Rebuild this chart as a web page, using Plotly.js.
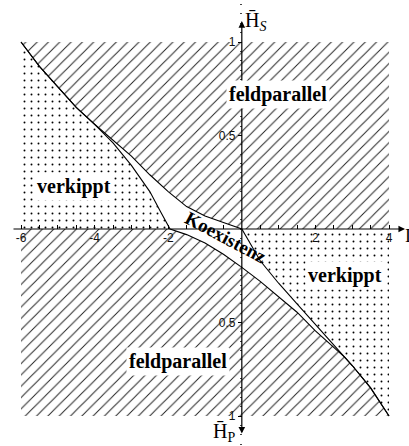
<!DOCTYPE html>
<html>
<head>
<meta charset="utf-8">
<script src="https://cdn.plot.ly/plotly-3.0.1.min.js"></script>
<style>
  html, body { margin: 0; padding: 0; background: #fff; }
  #chart { width: 409px; height: 446px; }
</style>
</head>
<body>
<div id="chart"></div>
<script>
// Phase diagram: field along the horizontal axis, H̄_S upwards, H̄_P downwards.
// Boundary of the hatched "feldparallel" phase above the axis (A) and its
// continuation below the axis, bounding the tilted phase on the right (C).
const curveAX = [-6, -5.5, -5, -4.5, -4, -3.5, -3, -2.5, -2, -1.5, -1, -0.5, 0];
const curveAY = [1, 0.87, 0.76, 0.65, 0.56, 0.475, 0.39, 0.29, 0.2, 0.12, 0.07, 0.035, 0];
const curveCX = [0, 0.5, 1, 1.5, 2, 2.5, 3, 3.5, 4];
const curveCY = [0, -0.17, -0.29, -0.40, -0.51, -0.62, -0.73, -0.85, -1];
// Boundary of the tilted phase on the left (B) and of the hatched phase below (D).
const curveBX = [-6, -5.5, -5, -4.5, -4, -3.5, -3, -2.5, -2.2, -1.95];
const curveBY = [1, 0.87, 0.76, 0.65, 0.56, 0.46, 0.34, 0.2, 0.09, 0];
const curveDX = [-1.95, -1.5, -1, -0.5, 0, 0.5, 1, 1.5, 2, 2.5, 2.8, 3, 3.5, 4];
const curveDY = [0, -0.03, -0.075, -0.135, -0.205, -0.28, -0.36, -0.445, -0.545, -0.63, -0.686, -0.73, -0.85, -1];

const xTickVals = [-6, -5.5, -5, -4.5, -4, -3.5, -3, -2.5, -2, -1.5, -1, -0.5, 0.5, 1, 1.5, 2, 2.5, 3, 3.5, 4];
const xTickText = ['-6', '', '', '', '-4', '', '', '', '-2', '', '', '', '', '', '', '2', '', '', '', '4'];
const yTickVals = [1, 0.5, -0.5, -1];
const yTickText = ['1', '0.5', '0.5', '1'];

const XMIN = -6, XMAX = 4, YMIN = -1, YMAX = 1;

const hatch = { shape: '/', size: 8, solidity: 0.12, fgcolor: '#222222', bgcolor: '#ffffff' };
const dots = { shape: '.', size: 7, solidity: 0.06, fgcolor: '#000000', bgcolor: '#ffffff' };

function region(xs, ys, pattern) {
  return {
    x: xs, y: ys, type: 'scatter', mode: 'none', fill: 'toself',
    fillcolor: '#ffffff', fillpattern: pattern, hoverinfo: 'skip'
  };
}

const traces = [
  // feldparallel, upper half
  region(curveAX.concat([XMAX, XMAX]), curveAY.concat([0, YMAX]), hatch),
  // verkippt, left
  region(curveBX.concat([XMIN]), curveBY.concat([0]), dots),
  // verkippt, right
  region(curveCX.concat([XMAX]), curveCY.concat([0]), dots),
  // feldparallel, lower half
  region(curveDX.concat([XMIN, XMIN]), curveDY.concat([YMIN, 0]), hatch),
  // boundary lines
  { x: curveAX.concat(curveCX.slice(1)), y: curveAY.concat(curveCY.slice(1)),
    type: 'scatter', mode: 'lines', line: { color: '#000', width: 1.1 }, hoverinfo: 'skip' },
  { x: curveBX.concat(curveDX.slice(1)), y: curveBY.concat(curveDY.slice(1)),
    type: 'scatter', mode: 'lines', line: { color: '#000', width: 1.1 }, hoverinfo: 'skip' }
];

const xr = [-6.571, 4.543];
const yr = [-1.1604, 1.2246];

const serif = 'Liberation Serif, Times New Roman, serif';
const label = (text, x, y, extra) => Object.assign({
  text: '<b>' + text + '</b>', x: x, y: y, xref: 'x', yref: 'y', showarrow: false,
  font: { family: serif, size: 20, color: '#000' }, bgcolor: '#ffffff', borderpad: 2
}, extra || {});

const layout = {
  width: 409, height: 446,
  margin: { l: 0, r: 0, t: 0, b: 0 },
  paper_bgcolor: '#ffffff', plot_bgcolor: '#ffffff',
  showlegend: false,
  xaxis: {
    range: xr, anchor: 'free', position: (0 - yr[0]) / (yr[1] - yr[0]),
    showgrid: false, zeroline: false, showline: false,
    tickmode: 'array', tickvals: xTickVals, ticktext: xTickText,
    ticks: 'inside', ticklen: 4, tickwidth: 1, tickcolor: '#000',
    tickfont: { family: 'Liberation Sans, Arial, sans-serif', size: 12, color: '#111' },
    fixedrange: true
  },
  yaxis: {
    range: yr, anchor: 'free', position: (0 - xr[0]) / (xr[1] - xr[0]),
    showgrid: false, zeroline: false, showline: false,
    tickmode: 'array', tickvals: yTickVals, ticktext: yTickText,
    ticks: 'outside', ticklen: 4, tickwidth: 1, tickcolor: '#000',
    tickfont: { family: 'Liberation Sans, Arial, sans-serif', size: 12, color: '#111' },
    minor: { tickmode: 'linear', tick0: 0, dtick: 0.05, ticks: 'outside', ticklen: 2, tickcolor: '#444' },
    fixedrange: true
  },
  annotations: [
    // horizontal axis with arrow
    { x: 4.435, y: 0, ax: -6.245, ay: 0, axref: 'x', ayref: 'y', xref: 'x', yref: 'y',
      text: '', showarrow: true, arrowhead: 2, arrowsize: 1.1, arrowwidth: 1.2, arrowcolor: '#000', standoff: 0 },
    // vertical axis, arrows at both ends
    { x: 0, y: 1.112, ax: 0, ay: -1.102, axref: 'x', ayref: 'y', xref: 'x', yref: 'y',
      text: '', showarrow: true, arrowhead: 2, startarrowhead: 2, arrowside: 'end+start',
      arrowsize: 1.1, startarrowsize: 1.1, arrowwidth: 1.2, arrowcolor: '#000', standoff: 0, startstandoff: 0 },
    label('feldparallel', 0.98, 0.717),
    label('feldparallel', -1.73, -0.706),
    label('verkippt', -4.56, 0.225),
    label('verkippt', 2.80, -0.251),
    label('Koexistenz', -0.43, -0.048, { textangle: 28, bgcolor: 'rgba(0,0,0,0)', borderpad: 0, font: { family: serif, size: 19, color: '#000' } }),
    { text: 'H\u0304<sub><i>S</i></sub>', x: 0.38, y: 1.107, xref: 'x', yref: 'y', showarrow: false,
      font: { family: serif, size: 20, color: '#000' } },
    { text: 'H\u0304<sub>P</sub>', x: -0.48, y: -1.09, xref: 'x', yref: 'y', showarrow: false,
      font: { family: serif, size: 20, color: '#000' } },
    { text: 'I', x: 4.37, y: -0.04, xref: 'x', yref: 'y', xanchor: 'left', showarrow: false,
      font: { family: serif, size: 18, color: '#000' } }
  ]
};

Plotly.newPlot('chart', traces, layout, { displayModeBar: false, staticPlot: true });
</script>
</body>
</html>
